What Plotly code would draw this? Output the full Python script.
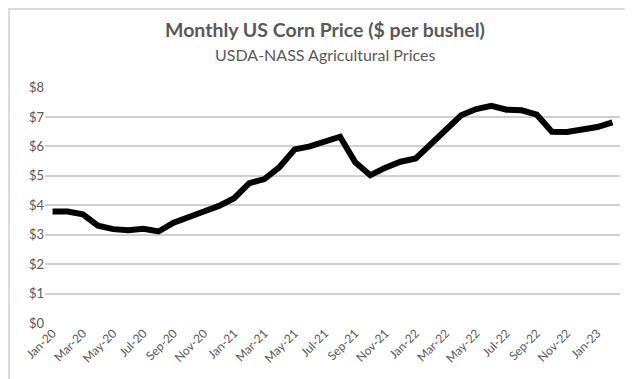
import plotly.graph_objects as go

months = ["Jan-20","Feb-20","Mar-20","Apr-20","May-20","Jun-20","Jul-20","Aug-20","Sep-20","Oct-20","Nov-20","Dec-20",
          "Jan-21","Feb-21","Mar-21","Apr-21","May-21","Jun-21","Jul-21","Aug-21","Sep-21","Oct-21","Nov-21","Dec-21",
          "Jan-22","Feb-22","Mar-22","Apr-22","May-22","Jun-22","Jul-22","Aug-22","Sep-22","Oct-22","Nov-22","Dec-22",
          "Jan-23","Feb-23"]
prices = [3.79, 3.79, 3.69, 3.31, 3.19, 3.15, 3.20, 3.11, 3.41, 3.62, 3.79, 3.98,
          4.24, 4.75, 4.89, 5.30, 5.90, 6.00, 6.14, 6.33, 5.46, 5.02, 5.28, 5.48,
          5.59, 6.07, 6.54, 7.06, 7.27, 7.38, 7.25, 7.23, 7.08, 6.50, 6.49, 6.59,
          6.66, 6.82]
tick_labels = months[::2]
y_ticks = list(range(0, 9))
title_text = "Monthly US Corn Price ($ per bushel)"
subtitle_text = "USDA-NASS Agricultural Prices"

grey = "#595959"
font = "Lato"

fig = go.Figure(go.Scatter(
    x=months, y=prices, mode="lines",
    line=dict(color="black", width=6),
))

W, H = 633, 379
l, r, t, b = 37, 21, 79, 64
pw, ph = W - l - r, H - t - b

fig.update_layout(
    width=W, height=H,
    margin=dict(l=l, r=r, t=t, b=b),
    paper_bgcolor="white", plot_bgcolor="white",
    showlegend=False,
    font=dict(family=font, color=grey, size=12),
    xaxis=dict(
        type="category", range=[-0.5, len(months) - 0.5],
        tickvals=tick_labels, ticktext=tick_labels, tickangle=-45,
        showgrid=False, showline=False, zeroline=False, ticks="",
        tickfont=dict(size=12, color=grey),
    ),
    yaxis=dict(
        range=[0, 8.02], tickmode="array", tickvals=y_ticks,
        ticktext=[f"${v}" for v in y_ticks],
        showgrid=True, gridcolor="#d0d0d0", gridwidth=2, zeroline=False,
        showline=False, ticks="", tickfont=dict(size=13, color=grey),
    ),
    annotations=[
        dict(text=f"<b>{title_text}</b>", xref="paper", yref="paper",
             x=0.5 + (W / 2 - l - pw / 2) / pw, y=1 + (t - 22) / ph,
             xanchor="center", yanchor="middle", showarrow=False,
             font=dict(family=font, size=19.5, color=grey)),
        dict(text=subtitle_text, xref="paper", yref="paper",
             x=0.5 + (W / 2 - l - pw / 2) / pw, y=1 + (t - 47) / ph,
             xanchor="center", yanchor="middle", showarrow=False,
             font=dict(family=font, size=16, color=grey)),
    ],
    shapes=[dict(
        type="rect", xref="paper", yref="paper",
        x0=(1 - l) / pw, x1=(W - 1 - l) / pw,
        y0=-(b - 1) / ph, y1=1 + (t - 1) / ph,
        line=dict(color="#d0d0d0", width=1.5), fillcolor="rgba(0,0,0,0)",
        layer="above",
    )],
)

fig.write_html("out.html")
